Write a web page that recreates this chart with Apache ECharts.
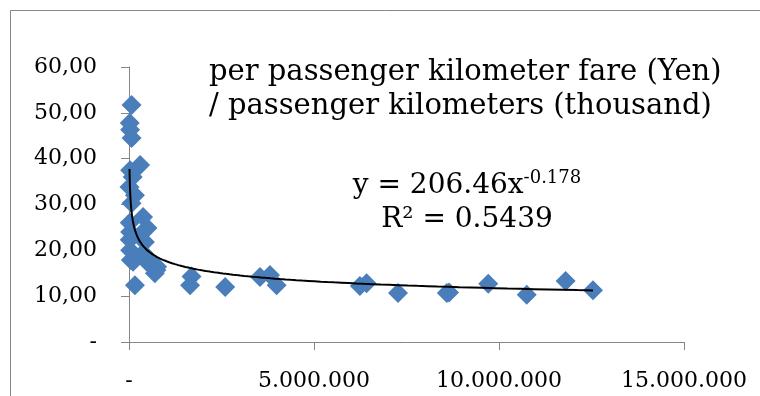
<!DOCTYPE html>
<html>
<head>
<meta charset="utf-8">
<script src="https://cdn.jsdelivr.net/npm/echarts@6/dist/echarts.min.js"></script>
<style>html,body{margin:0;padding:0;background:#fff}#c{width:760px;height:396px}</style>
</head>
<body>
<div id="c"></div>
<script>
// passenger kilometers (thousand)
const passengerKm = [
  70000, 20000, 30000, 70000, 300000, 30000, 100000, 14000, 160000, 70000,
  380000, 20000, 500000, 30000, 350000, 20000, 430000, 30000, 380000, 110000,
  50000, 480000, 500000, 760000, 740000, 700000, 160000,
  1690000, 1650000, 2600000, 3540000, 3810000, 3990000, 6240000, 6420000,
  7270000, 8590000, 8650000, 9710000, 10750000, 11800000, 12540000
];
// per passenger kilometer fare (Yen)
const fareYen = [
  51.7, 47.8, 46.3, 44.5, 38.6, 37.5, 36.0, 33.8, 32.0, 30.3,
  27.3, 26.0, 24.9, 24.0, 23.8, 22.3, 21.8, 20.0, 19.4, 17.5,
  17.9, 17.5, 18.5, 16.4, 15.7, 15.0, 12.4,
  14.3, 12.4, 12.0, 14.2, 14.6, 12.4, 12.2, 12.8,
  10.7, 10.7, 10.8, 12.7, 10.3, 13.3, 11.3
];
const xTickLabels = ['-', '5.000.000', '10.000.000', '15.000.000'];
const yTickLabels = ['-', '10,00', '20,00', '30,00', '40,00', '50,00', '60,00'];
// power trendline shown on chart: y = 206.46 x^-0.178
const TREND_A = 206.46, TREND_B = -0.178;
const R2_TEXT = '0.5439';
const titleLines = ['per passenger kilometer fare (Yen)', '/ passenger kilometers (thousand)'];

const points = passengerKm.map((x, i) => [x, fareYen[i]]);
const xmin = Math.min(...passengerKm), xmax = Math.max(...passengerKm);
const trend = [];
const N = 200;
for (let i = 0; i <= N; i++) {
  const x = Math.exp(Math.log(xmin) + (Math.log(xmax) - Math.log(xmin)) * i / N);
  trend.push([x, TREND_A * Math.pow(x, TREND_B)]);
}

const FONT = '"DejaVu Serif", serif';
const AX = '#868686';
const chart = echarts.init(document.getElementById('c'), null, {renderer: 'canvas'});
chart.setOption({
  animation: false,
  grid: {left: 129, right: 76, top: 67, bottom: 54, containLabel: false},
  xAxis: {
    type: 'value', min: 0, max: 15000000, interval: 5000000,
    splitLine: {show: false},
    axisLine: {show: true, lineStyle: {color: AX, width: 1}},
    axisTick: {show: true, length: 8, lineStyle: {color: AX}},
    axisLabel: {margin: 28, fontFamily: FONT, fontSize: 22, color: '#000',
      formatter: (v) => xTickLabels[Math.round(v / 5000000)]}
  },
  yAxis: {
    type: 'value', min: 0, max: 60, interval: 10,
    splitLine: {show: false},
    axisLine: {show: true, lineStyle: {color: AX, width: 1}},
    axisTick: {show: true, length: 8, lineStyle: {color: AX}},
    axisLabel: {margin: 32, fontFamily: FONT, fontSize: 22, color: '#000',
      formatter: (v) => yTickLabels[Math.round(v / 10)]}
  },
  series: [
    {type: 'scatter', data: points, symbol: 'diamond', symbolSize: 20,
      itemStyle: {color: '#4A7EBB', opacity: 1}, z: 2},
    {type: 'line', data: trend, showSymbol: false, smooth: false,
      lineStyle: {color: '#000', width: 2}, z: 3}
  ],
  graphic: [
    {type: 'rect', shape: {x: 10.5, y: 10.5, width: 1000, height: 1000},
      style: {fill: 'none', stroke: AX, lineWidth: 1}, z: 0, silent: true},
    {type: 'text', left: 209, top: 55, z: 10,
      style: {text: titleLines.join('\n'), font: '29px ' + FONT, lineHeight: 34, fill: '#000'}},
    {type: 'text', x: 467, y: 169, z: 10,
      style: {
        text: '{a|y = ' + TREND_A + 'x}{s|' + TREND_B + '}\n{a|R² = ' + R2_TEXT + '}',
        align: 'center', lineHeight: 34, fill: '#000',
        rich: {
          a: {fontFamily: FONT, fontSize: 28, lineHeight: 34, fill: '#000'},
          s: {fontFamily: FONT, fontSize: 18, lineHeight: 34, verticalAlign: 'top', fill: '#000'}
        }
      }}
  ]
});
</script>
</body>
</html>
